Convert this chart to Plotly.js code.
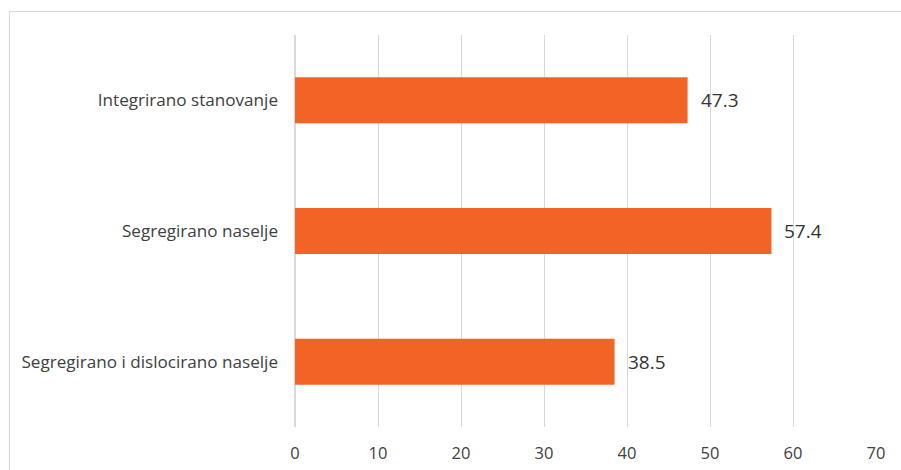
<!DOCTYPE html>
<html>
<head>
<meta charset="utf-8">
<script src="https://cdn.plot.ly/plotly-3.0.1.min.js"></script>
<style>
html,body{margin:0;padding:0;background:#fff;}
#chart{width:901px;height:470px;}
</style>
</head>
<body>
<div id="chart"></div>
<script>
var categories = ["Integrirano stanovanje", "Segregirano naselje", "Segregirano i dislocirano naselje"];
var values = [47.3, 57.4, 38.5];
var tickValues = [0, 10, 20, 30, 40, 50, 60, 70];

var trace = {
  type: "bar",
  orientation: "h",
  x: values,
  y: categories,
  marker: {color: "#F26426"},
  hoverinfo: "x+y"
};

var annotations = values.map(function (v, i) {
  return {
    x: v, y: categories[i], xref: "x", yref: "y",
    text: v.toFixed(1), showarrow: false,
    xanchor: "left", yanchor: "middle", xshift: 11,
    font: {family: "Open Sans, sans-serif", size: 19, color: "#333333"}
  };
});

var layout = {
  width: 901, height: 470,
  margin: {l: 295, r: 25, t: 35, b: 43, pad: 0},
  paper_bgcolor: "#ffffff",
  plot_bgcolor: "#ffffff",
  showlegend: false,
  bargap: 0.648,
  font: {family: "Open Sans, sans-serif", color: "#404040"},
  xaxis: {
    range: [0, 70],
    tickvals: tickValues,
    ticktext: tickValues.map(String),
    showgrid: true, gridcolor: "#d9d9d9", gridwidth: 1,
    zeroline: true, zerolinecolor: "#d9d9d9", zerolinewidth: 1.5,
    showline: false, ticks: "",
    ticklabelstandoff: 14,
    tickfont: {family: "Open Sans, sans-serif", size: 16.5, color: "#404040"},
    fixedrange: true
  },
  yaxis: {
    type: "category",
    categoryorder: "array",
    categoryarray: categories,
    autorange: "reversed",
    showgrid: false, zeroline: false, showline: false, ticks: "",
    ticklabelstandoff: 16,
    tickfont: {family: "Open Sans, sans-serif", size: 17.1, color: "#404040"},
    fixedrange: true
  },
  annotations: annotations,
  shapes: [{
    type: "rect", xref: "paper", yref: "paper",
    x0: -0.4914, x1: 1.2, y0: -0.3, y1: 1.0599,
    line: {color: "#d9d9d9", width: 1.2},
    fillcolor: "rgba(0,0,0,0)", layer: "below"
  }]
};

Plotly.newPlot("chart", [trace], layout, {displayModeBar: false, staticPlot: true});
</script>
</body>
</html>
